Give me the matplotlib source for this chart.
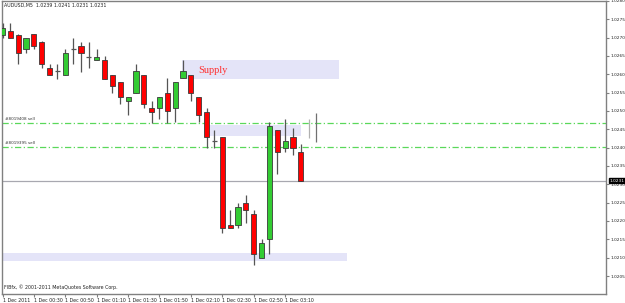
import matplotlib
matplotlib.use("Agg")
import matplotlib.pyplot as plt
import matplotlib.transforms as mtransforms
from matplotlib.patches import Rectangle
from matplotlib import font_manager
import numpy as np

# ---- data (AUDUSD M5) ----
opens = [1.02707, 1.02718, 1.02707, 1.02668, 1.02709, 1.02689, 1.02618, 1.02608, 1.02597, 1.02668,
         1.02678, 1.02648, 1.02638, 1.02638, 1.02598, 1.02578, 1.02528, 1.02548, 1.02599, 1.02508,
         1.02508, 1.02548, 1.02508, 1.02589, 1.02598, 1.02539, 1.02498, 1.02418, 1.02428, 1.02189,
         1.02189, 1.02248, 1.02219, 1.02100, 1.02150, 1.02448, 1.02400, 1.02428, 1.02389]
highs = [1.02740, 1.02739, 1.02709, 1.02698, 1.02709, 1.02690, 1.02628, 1.02628, 1.02668, 1.02698,
         1.02688, 1.02689, 1.02668, 1.02650, 1.02598, 1.02578, 1.02539, 1.02628, 1.02599, 1.02528,
         1.02539, 1.02589, 1.02578, 1.02639, 1.02598, 1.02539, 1.02507, 1.02449, 1.02428, 1.02230,
         1.02250, 1.02271, 1.02230, 1.02150, 1.02469, 1.02448, 1.02478, 1.02453, 1.02410]
lows = [1.02699, 1.02698, 1.02628, 1.02657, 1.02669, 1.02618, 1.02597, 1.02587, 1.02597, 1.02628,
        1.02607, 1.02618, 1.02638, 1.02588, 1.02548, 1.02519, 1.02489, 1.02548, 1.02507, 1.02468,
        1.02479, 1.02468, 1.02470, 1.02589, 1.02528, 1.02471, 1.02398, 1.02398, 1.02168, 1.02180,
        1.02180, 1.02194, 1.02080, 1.02100, 1.02109, 1.02328, 1.02389, 1.02380, 1.02309]
closes = [1.02727, 1.02698, 1.02657, 1.02698, 1.02678, 1.02628, 1.02597, 1.02608, 1.02657, 1.02668,
          1.02657, 1.02648, 1.02648, 1.02588, 1.02568, 1.02539, 1.02539, 1.02609, 1.02519, 1.02498,
          1.02539, 1.02500, 1.02578, 1.02609, 1.02548, 1.02489, 1.02428, 1.02418, 1.02180, 1.02180,
          1.02239, 1.02230, 1.02109, 1.02139, 1.02459, 1.02389, 1.02417, 1.02400, 1.02309]

time_labels = ["1 Dec 2011", "1 Dec 00:30", "1 Dec 00:50", "1 Dec 01:10", "1 Dec 01:30",
               "1 Dec 01:50", "1 Dec 02:10", "1 Dec 02:30", "1 Dec 02:50", "1 Dec 03:10"]
time_label_bars = [0, 4, 8, 12, 16, 20, 24, 28, 32, 36]

price_ticks = [1.0205, 1.0210, 1.0215, 1.0220, 1.0225, 1.0230, 1.0235, 1.0240,
               1.0245, 1.0250, 1.0255, 1.0260, 1.0265, 1.0270, 1.0275, 1.0280]

order_levels = [1.02467, 1.02402]
order_labels = ["#8019408 sell", "#8019395 sell"]
current_price = 1.0231

supply_zone = (22.9, 42.9, 1.02587, 1.02639)   # x0, x1, y0, y1
mid_zone = (26.2, 38.0, 1.02433, 1.02462)
demand_zone = (-0.5, 43.9, 1.02091, 1.02112)

ghost_bars = [39, 40]
ghost_lo = [1.02426, 1.02414]
ghost_hi = [1.02477, 1.02495]

# ---- fonts ----
avail = {f.name for f in font_manager.fontManager.ttflist}
narrow = "Liberation Sans Narrow" in avail
small_font = ["Liberation Sans Narrow", "DejaVu Sans"] if narrow else ["DejaVu Sans"]
fs = 4.2 if narrow else 3.4
fs_y = 3.8 if narrow else 3.1
plt.rcParams["font.family"] = small_font

# ---- figure ----
W, H = 625, 303
fig = plt.figure(figsize=(W / 100, H / 100), dpi=100)
fig.patch.set_facecolor("white")
ax_left, ax_right, ax_top, ax_bot = 2, 606, 0.5, 294
ax = fig.add_axes([ax_left / W, 1 - ax_bot / H, (ax_right - ax_left) / W, (ax_bot - ax_top) / H])
ax.set_facecolor("white")
ax.set_xlim(-0.064, 76.88)
ax.set_ylim(1.02001, 1.02801)

for s in ax.spines.values():
    s.set_color("#808080")
    s.set_linewidth(1.0)

# zones
for (x0, x1, y0, y1) in [supply_zone, mid_zone, demand_zone]:
    ax.add_patch(Rectangle((x0, y0), x1 - x0, y1 - y0, facecolor="#e4e4f8",
                           edgecolor="none", zorder=1, clip_on=True))
ax.text(24.9, 1.02609, "Supply", color="#ff3030", family="Liberation Serif",
        fontsize=7.5, va="center", ha="left", zorder=2)

# order lines
for lvl, lab in zip(order_levels, order_labels):
    ax.axhline(lvl, color="#5ad85a", lw=0.9, dashes=(5, 2, 1, 2), zorder=2)
    ax.text(0.3, lvl + 0.00005, lab, fontsize=fs - 0.4, color="#333333", va="bottom",
            ha="left", zorder=5)

# current price line
ax.axhline(current_price, color="#a8a8b0", lw=0.9, zorder=2)

# ghost lines
ax.vlines(ghost_bars, ghost_lo, ghost_hi, colors=["#b0b0b0", "#707070"], lw=0.9, zorder=3)

# candles
x = np.arange(len(opens))
o = np.array(opens); c = np.array(closes); h = np.array(highs); l = np.array(lows)
ax.vlines(x, l, h, colors="#555555", lw=0.9, zorder=3)
bw = 0.66
up = c > o
dn = c < o
dj = c == o
ax.bar(x[up], (c - o)[up], bottom=o[up], width=bw, color="#33cc33",
       edgecolor="#3a3a3a", linewidth=0.6, zorder=4)
ax.bar(x[dn], (c - o)[dn], bottom=o[dn], width=bw, color="#ff0000",
       edgecolor="#3a3a3a", linewidth=0.6, zorder=4)
ax.hlines(o[dj], x[dj] - bw / 2, x[dj] + bw / 2, colors="#555555", lw=0.9, zorder=4)

# axes ticks
ax.yaxis.tick_right()
ax.set_yticks(price_ticks)
ax.set_yticklabels([f"{p:.4f}" for p in price_ticks])
ax.tick_params(axis="y", length=2.5, width=0.8, colors="#808080", labelcolor="#222222",
               labelsize=fs_y, pad=0.6)
ax.set_xticks(time_label_bars)
ax.set_xticklabels(time_labels, ha="left")
ax.tick_params(axis="x", length=2, width=0.8, colors="#808080", labelcolor="#222222",
               labelsize=fs, pad=1)

# current price box
trans = mtransforms.blended_transform_factory(ax.transAxes, ax.transData)
ax.text(1.0055, current_price, "1.0231", transform=trans, fontsize=fs_y, color="white",
        va="center", ha="left", clip_on=False, zorder=10,
        bbox=dict(boxstyle="square,pad=0.12", facecolor="black", edgecolor="black"))

# header and footer texts
fig.text(4 / W, 1 - 5 / H, "AUDUSD,M5  1.0239 1.0241 1.0231 1.0231", fontsize=fs,
         color="#222222", va="center", ha="left")
fig.text(4 / W, 1 - 287 / H, "FIBfx, \u00a9 2001-2011 MetaQuotes Software Corp.", fontsize=fs,
         color="#222222", va="center", ha="left")

fig.savefig("out.png", dpi=100)
